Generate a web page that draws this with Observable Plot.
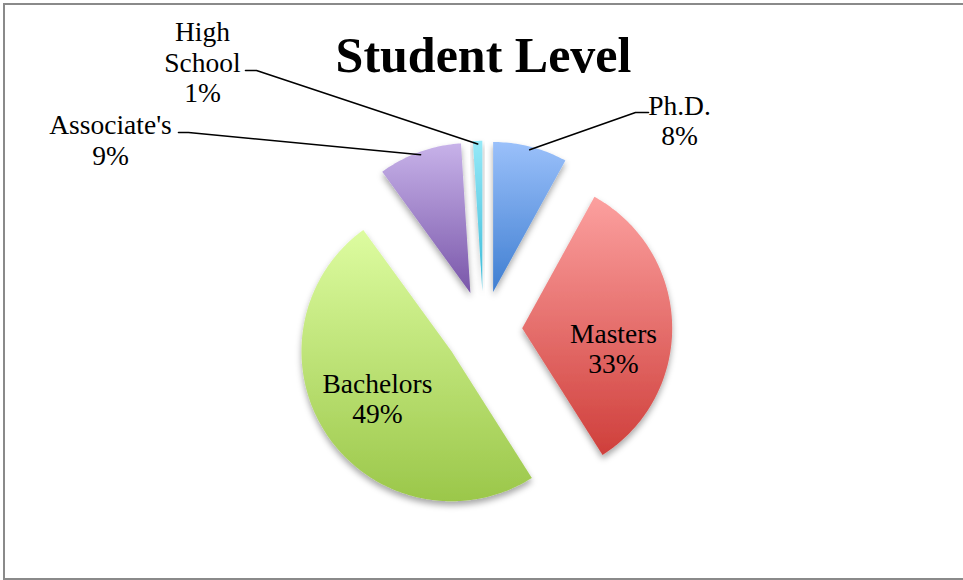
<!DOCTYPE html>
<html>
<head>
<meta charset="utf-8">
<script src="https://cdn.jsdelivr.net/npm/d3@7"></script>
<script src="https://cdn.jsdelivr.net/npm/@observablehq/plot@0.6"></script>
<style>
  html, body { margin: 0; padding: 0; background: #fff; }
  #wrap { position: relative; width: 963px; height: 580px; overflow: hidden; }
  #border { position: absolute; left: 3px; top: 3px; width: 1000px; height: 573px; border: 2px solid #8a8a8a; }
  #chart { position: absolute; left: 0; top: 0; }
</style>
</head>
<body>
<div id="wrap"><div id="border"></div><div id="chart"></div></div>
<script>
// ---- data ----
const title = "Student Level";
const categories = ["Ph.D.", "Masters", "Bachelors", "Associate's", "High School"];
const shares = [8, 33, 49, 9, 1];

// ---- styles ----
const topColors = ["#9ac0fa", "#fca09f", "#ddfca0", "#c7b2e9", "#95e9f8"];
const bottomColors = ["#3f7ed1", "#cf3f3b", "#9bc74a", "#7956a9", "#3bbbd8"];
const serif = "'Liberation Serif', 'Times New Roman', serif";
const labelSize = 27.5, labelLH = 31;

// ---- layout (pixels) ----
const W = 963, H = 580;
const pie = {cx: 483, cy: 329, r: 150, explode: 38.7};
const titleBaseline = 71.7;
const labelPlacement = {
  "Ph.D.":       {x: 679, mid: 129.5, leader: [[648, 112], [635, 112]]},
  "Associate's": {x: 110, mid: 149,   leader: [[178, 132], [188, 132]]},
  "High School": {x: 202, mid: 71,    leader: [[245, 70], [256, 70]]},
  "Masters":     {x: 613, mid: 357.5},
  "Bachelors":   {x: 377, mid: 407.5}
};

// ---- geometry from the data ----
const arcs = d3.pie().sort(null).value(d => d)(shares);
const slices = arcs.map((a, i) => {
  const mid = (a.startAngle + a.endAngle) / 2;
  const tx = pie.cx + pie.explode * Math.sin(mid);
  const ty = pie.cy - pie.explode * Math.cos(mid);
  const pts = [{x: tx, y: ty}];
  const n = Math.max(2, Math.ceil((a.endAngle - a.startAngle) / (Math.PI / 180)));
  for (let k = 0; k <= n; k++) {
    const t = a.startAngle + (a.endAngle - a.startAngle) * k / n;
    pts.push({x: tx + pie.r * Math.sin(t), y: ty - pie.r * Math.cos(t)});
  }
  pts.push({x: tx, y: ty});
  return {cat: categories[i], share: shares[i], mid, tx, ty, pts, i};
});

const labels = slices.map(s => {
  const p = labelPlacement[s.cat];
  return {
    x: p.x,
    y: p.mid - 0.32 * labelLH,
    text: s.cat.split(" ").join("\n") + "\n" + s.share + "%"
  };
});

const leaders = [];
slices.forEach(s => {
  const p = labelPlacement[s.cat];
  if (!p.leader) return;
  p.leader.forEach(([x, y]) => leaders.push({z: s.cat, x, y}));
  leaders.push({
    z: s.cat,
    x: s.tx + (pie.r - 3) * Math.sin(s.mid),
    y: s.ty - (pie.r - 3) * Math.cos(s.mid)
  });
});

const sliceMarks = slices.map(s =>
  Plot.line(s.pts, {x: "x", y: "y", fill: `url(#grad${s.i})`, stroke: "none", curve: "linear"})
);

const svg = Plot.plot({
  width: W,
  height: H,
  margin: 0,
  x: {domain: [0, W], range: [0, W], axis: null},
  y: {domain: [0, H], range: [0, H], axis: null},
  style: {background: "transparent", overflow: "visible"},
  marks: [
    ...sliceMarks,
    Plot.line(leaders, {x: "x", y: "y", z: "z", stroke: "#000", strokeWidth: 1.6, curve: "linear"}),
    Plot.text(labels, {
      x: "x", y: "y", text: "text",
      fontFamily: serif, fontSize: labelSize, lineHeight: labelLH / labelSize,
      textAnchor: "middle", lineAnchor: "middle", fill: "#000"
    }),
    Plot.text([title], {
      x: () => pie.cx, y: () => titleBaseline - 0.32 * 50, text: d => d,
      fontFamily: serif, fontSize: 50, fontWeight: "bold",
      textAnchor: "middle", lineAnchor: "middle", fill: "#000"
    })
  ]
});

const defs = d3.select(svg).insert("defs", ":first-child");
slices.forEach(s => {
  const g = defs.append("linearGradient").attr("id", "grad" + s.i)
    .attr("x1", 0).attr("y1", 0).attr("x2", 0).attr("y2", 1);
  g.append("stop").attr("offset", "0%").attr("stop-color", topColors[s.i]);
  g.append("stop").attr("offset", "100%").attr("stop-color", bottomColors[s.i]);
});
const f = defs.append("filter").attr("id", "shadow")
  .attr("x", "-20%").attr("y", "-20%").attr("width", "140%").attr("height", "140%");
f.append("feDropShadow").attr("dx", 0).attr("dy", 4).attr("stdDeviation", 3)
  .attr("flood-color", "#000").attr("flood-opacity", 0.35);
d3.select(svg).selectAll('g[aria-label="line"]')
  .filter((d, i) => i < slices.length)
  .attr("filter", "url(#shadow)");

document.getElementById("chart").appendChild(svg);
</script>
</body>
</html>
